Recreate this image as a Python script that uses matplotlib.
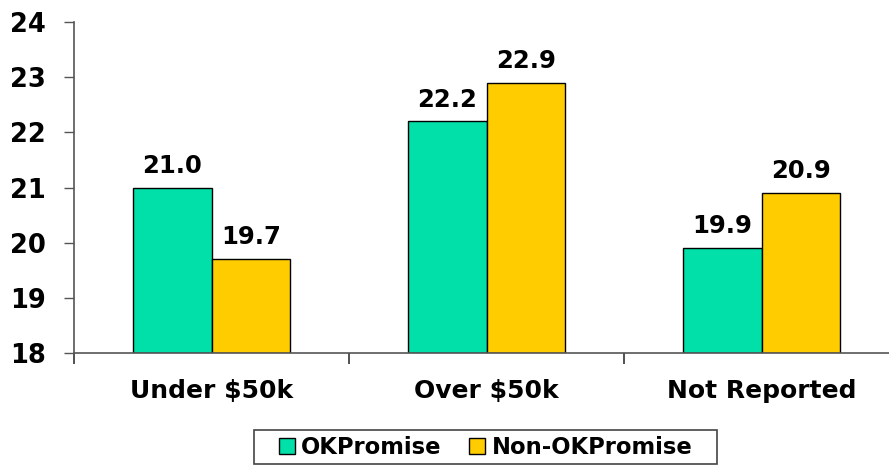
import matplotlib
matplotlib.use("Agg")
import matplotlib.pyplot as plt
from matplotlib.patches import Patch, Rectangle
import numpy as np

categories = ["Under $50k", "Over $50k", "Not Reported"]
okpromise = [21.0, 22.2, 19.9]
non_okpromise = [19.7, 22.9, 20.9]
series_names = ["OKPromise", "Non-OKPromise"]
yticks = [18, 19, 20, 21, 22, 23, 24]

green = "#00E0A8"
yellow = "#FFCC00"

plt.rcParams['font.family'] = ['DejaVu Sans']
plt.rcParams['font.weight'] = 'bold'

W, H = 889, 466
fig = plt.figure(figsize=(W / 100, H / 100), dpi=100)
ax = fig.add_axes([74 / W, (H - 353) / H, (899 - 74) / W, (353 - 22) / H])

x = np.arange(len(categories))
bw = 0.287
ax.bar(x - bw / 2, np.array(okpromise) - 18, bw, bottom=18, color=green,
       edgecolor="black", linewidth=1.0)
ax.bar(x + bw / 2, np.array(non_okpromise) - 18, bw, bottom=18, color=yellow,
       edgecolor="black", linewidth=1.0)

for xs, vals in ((x - bw / 2, okpromise), (x + bw / 2, non_okpromise)):
    for xi, v in zip(xs, vals):
        ax.annotate(f"{v:.1f}", (xi, v), xytext=(0, 7), textcoords="offset points",
                    ha="center", va="bottom", fontsize=17.5, fontweight="bold")

ax.set_xlim(-0.5, len(categories) - 0.5)
ax.set_ylim(18, 24)
ax.set_yticks(yticks)
ax.set_yticklabels([str(t) for t in yticks], fontsize=18.5, fontweight="bold")
ax.tick_params(axis="y", length=7, width=1, color="#555555", pad=13)

ax.set_xticks(x)
ax.set_xticklabels(categories, fontsize=18, fontweight="bold")
ax.tick_params(axis="x", which="major", length=0, pad=19)
ax.set_xticks(np.arange(len(categories) + 1) - 0.5, minor=True)
ax.tick_params(axis="x", which="minor", length=8, width=1.2, color="#333333", direction="out")

for s in ("top", "right"):
    ax.spines[s].set_visible(False)
for s in ("left", "bottom"):
    ax.spines[s].set_color("#555555")
    ax.spines[s].set_linewidth(1.2)

handles = [Patch(facecolor=green, edgecolor="black", label=series_names[0]),
           Patch(facecolor=yellow, edgecolor="black", label=series_names[1])]
leg = fig.legend(handles=handles, loc="center", bbox_to_anchor=(485.5 / W, (H - 447) / H),
                 ncol=2, frameon=False,
                 prop={"size": 16.3, "weight": "bold"}, handlelength=0.7, handleheight=0.7,
                 handletextpad=0.3, columnspacing=1.2, borderpad=0.3, borderaxespad=0)
fig.add_artist(Rectangle((254 / W, (H - 464) / H), (717 - 254) / W, (464 - 430) / H,
                         transform=fig.transFigure, fill=False, edgecolor="#444444",
                         linewidth=1.2))

fig.savefig("out.png", dpi=100)
